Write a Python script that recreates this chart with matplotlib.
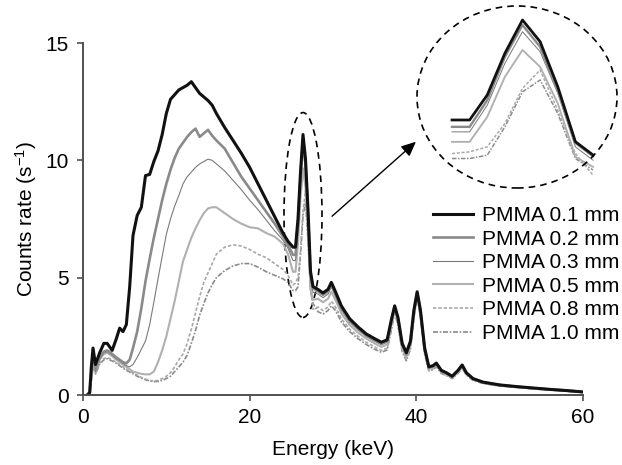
import matplotlib
matplotlib.use("Agg")
import matplotlib.pyplot as plt
from matplotlib.patches import Ellipse, FancyArrowPatch
import numpy as np

plt.rcParams['font.family'] = ['Liberation Sans', 'DejaVu Sans']
plt.rcParams['mathtext.default'] = 'regular'

energy = [0.5, 0.8, 1.0, 1.2, 1.5, 2.0, 2.5, 2.9, 3.5, 4.0, 4.4, 4.8, 5.2,
          5.6, 6.0, 6.5, 7.0, 7.5, 8.0, 8.5, 9.0, 9.5, 10.0, 10.5, 11.0, 11.5,
          12.0, 12.5, 13.0, 13.5, 14.0, 14.5, 15.0, 15.5, 16.0,
          17.0, 18.0, 19.0, 20.0, 21.0, 22.0, 23.0, 24.0, 24.6,
          25.2, 25.5, 25.8, 26.1, 26.4, 26.7, 27.0, 27.3, 27.6,
          28.2, 28.8, 29.4, 29.8, 30.3, 31.0, 32.0, 33.0, 34.0, 35.0, 35.8,
          36.5, 37.0, 37.4, 37.8, 38.3, 38.8, 39.3, 39.7, 40.1, 40.5, 41.0,
          41.5, 42.0, 42.4, 43.0, 43.6, 44.3, 45.0, 45.5, 46.0, 46.8, 48.0,
          50.0, 52.0, 54.0, 56.0, 58.0, 60.0]

pmma_01 = [0.0, 0.1, 1.2, 2.0, 1.3, 1.8, 2.2, 2.2, 1.9, 2.4, 2.85, 2.7, 3.0,
           4.6, 6.8, 7.65, 8.0, 9.35, 9.4, 9.95, 10.4, 11.1, 12.0, 12.6, 12.8, 13.0,
           13.1, 13.2, 13.35, 13.1, 12.85, 12.7, 12.55, 12.35, 12.0,
           11.4, 10.85, 10.3, 9.7, 9.0, 8.3, 7.6, 6.9, 6.55,
           6.3, 6.3, 7.5, 9.5, 11.1, 10.06, 7.9, 5.26, 4.62,
           4.5, 4.35, 4.5, 4.8, 4.4, 3.8, 3.25, 2.9, 2.6, 2.4, 2.25,
           2.35, 3.2, 3.8, 3.3, 2.2, 1.8, 2.3, 3.6, 4.4, 3.6, 2.0,
           1.2, 1.25, 1.36, 1.05, 0.95, 0.8, 1.05, 1.28, 0.95, 0.7, 0.55,
           0.43, 0.36, 0.3, 0.24, 0.19, 0.13]

pmma_02 = [0.0, 0.05, 0.9, 1.7, 1.1, 1.6, 1.85, 1.9, 1.75, 1.6, 1.5, 1.4, 1.35,
           1.5, 2.0, 2.7, 3.7, 4.85, 5.8, 6.7, 7.5, 8.3, 9.0, 9.6, 10.1, 10.5,
           10.75, 11.0, 11.2, 11.35, 11.0, 11.15, 11.3, 11.05, 10.85,
           10.5, 9.9, 9.3, 8.8, 8.3, 7.8, 7.3, 6.75, 6.4,
           5.97, 5.97, 7.25, 9.33, 10.86, 9.81, 7.74, 5.2, 4.56,
           4.42, 4.27, 4.42, 4.72, 4.32, 3.72, 3.18, 2.84, 2.55, 2.35, 2.2,
           2.3, 3.15, 3.77, 3.25, 2.15, 1.75, 2.25, 3.55, 4.37, 3.55, 1.96,
           1.18, 1.22, 1.33, 1.03, 0.93, 0.78, 1.03, 1.26, 0.93, 0.69, 0.54,
           0.42, 0.35, 0.29, 0.24, 0.19, 0.13]

pmma_03 = [0.0, 0.05, 0.8, 1.6, 1.0, 1.55, 1.8, 1.85, 1.7, 1.55, 1.45, 1.35, 1.25,
           1.2, 1.3, 1.6, 1.95, 2.3, 3.0, 3.95, 4.95, 5.9, 6.85, 7.5, 8.05, 8.5,
           9.0, 9.3, 9.5, 9.7, 9.85, 9.95, 10.05, 10.0, 9.85,
           9.55, 9.15, 8.75, 8.3, 7.9, 7.45, 7.0, 6.6, 6.25,
           5.73, 5.73, 7.01, 9.02, 10.54, 9.58, 7.58, 5.01, 4.37,
           4.3, 4.15, 4.3, 4.6, 4.2, 3.62, 3.1, 2.77, 2.49, 2.29, 2.14,
           2.25, 3.1, 3.73, 3.2, 2.1, 1.7, 2.2, 3.5, 4.33, 3.5, 1.92,
           1.15, 1.2, 1.31, 1.01, 0.91, 0.77, 1.01, 1.24, 0.92, 0.68, 0.53,
           0.41, 0.35, 0.29, 0.23, 0.18, 0.12]

pmma_05 = [0.0, 0.05, 0.7, 1.5, 1.0, 1.5, 1.75, 1.8, 1.65, 1.5, 1.4, 1.3, 1.2,
           1.1, 1.0, 0.95, 0.9, 0.88, 0.88, 1.0, 1.4, 1.9, 2.5, 3.25, 4.0, 4.85,
           5.7, 6.2, 6.7, 7.1, 7.45, 7.75, 7.95, 8.0, 8.0,
           7.75, 7.5, 7.3, 7.15, 7.1, 6.9, 6.75, 6.45, 6.0,
           5.25, 5.25, 6.45, 8.37, 9.66, 8.85, 7.1, 4.53, 4.05,
           4.1, 3.95, 4.1, 4.4, 4.05, 3.48, 2.98, 2.66, 2.4, 2.2, 2.05,
           2.15, 3.0, 3.68, 3.12, 2.0, 1.62, 2.12, 3.42, 4.28, 3.42, 1.86,
           1.11, 1.16, 1.28, 0.98, 0.88, 0.75, 0.98, 1.21, 0.9, 0.66, 0.52,
           0.4, 0.34, 0.28, 0.23, 0.18, 0.12]

pmma_08 = [0.0, 0.05, 0.6, 1.3, 0.9, 1.35, 1.55, 1.6, 1.5, 1.38, 1.3, 1.2, 1.1,
           1.0, 0.95, 0.85, 0.75, 0.68, 0.62, 0.6, 0.62, 0.7, 0.8, 0.95, 1.2, 1.5,
           1.75, 2.2, 2.8, 3.5, 4.2, 4.8, 5.2, 5.6, 6.0,
           6.3, 6.4, 6.35, 6.2, 6.0, 5.85, 5.6, 5.35, 5.1,
           4.69, 4.77, 5.01, 6.13, 7.82, 8.70, 6.77, 4.69, 3.65,
           3.75, 3.6, 3.75, 4.0, 3.75, 3.25, 2.8, 2.5, 2.25, 2.05, 1.9,
           2.0, 2.85, 3.6, 3.02, 1.9, 1.52, 2.02, 3.32, 4.22, 3.32, 1.78,
           1.06, 1.11, 1.23, 0.94, 0.85, 0.72, 0.94, 1.17, 0.87, 0.64, 0.5,
           0.39, 0.33, 0.27, 0.22, 0.17, 0.11]

pmma_10 = [0.0, 0.05, 0.6, 1.2, 0.9, 1.3, 1.5, 1.55, 1.45, 1.35, 1.25, 1.15, 1.05,
           0.98, 0.9, 0.8, 0.72, 0.65, 0.6, 0.57, 0.58, 0.62, 0.7, 0.8, 1.0, 1.2,
           1.4, 1.7, 2.2, 2.75, 3.4, 3.9, 4.35, 4.7, 5.0,
           5.3, 5.5, 5.6, 5.6, 5.45, 5.25, 5.1, 4.95, 4.8,
           4.45, 4.45, 4.61, 5.97, 7.65, 8.22, 6.61, 4.45, 3.9,
           3.55, 3.45, 3.6, 3.8, 3.6, 3.12, 2.7, 2.4, 2.15, 1.95, 1.82,
           1.92, 2.75, 3.55, 2.95, 1.85, 1.46, 1.96, 3.25, 4.18, 3.26, 1.74,
           1.03, 1.08, 1.2, 0.92, 0.83, 0.7, 0.92, 1.15, 0.85, 0.62, 0.49,
           0.38, 0.32, 0.26, 0.21, 0.16, 0.11]

labels = ['PMMA 0.1 mm', 'PMMA 0.2 mm', 'PMMA 0.3 mm',
          'PMMA 0.5 mm', 'PMMA 0.8 mm', 'PMMA 1.0 mm']
series = [pmma_01, pmma_02, pmma_03, pmma_05, pmma_08, pmma_10]
inset_range = (25.2, 27.6)

styles = [
    dict(color='#111111', lw=2.2, ls='-'),
    dict(color='#8a8a8a', lw=1.9, ls='-'),
    dict(color='#7a7a7a', lw=0.8, ls='-'),
    dict(color='#b0b0b0', lw=1.5, ls='-'),
    dict(color='#a8a8a8', lw=1.2, ls=(0, (2.0, 1.2))),
    dict(color='#8a8a8a', lw=1.2, ls=(0, (3.0, 1.0, 1.0, 1.0))),
]

FS = 15
W, H = 622, 465
fig = plt.figure(figsize=(W / 100, H / 100), dpi=100)
ax = fig.add_axes([83 / W, (H - 395) / H, 500 / W, 352 / H])

e = np.array(energy)
order = [5, 4, 3, 2, 1, 0]
lines = {}
for i in order:
    ln, = ax.plot(e, series[i], label=labels[i], **styles[i])
    lines[i] = ln

ax.set_xlim(0, 60)
ax.set_ylim(0, 15)
ax.set_xticks([0, 20, 40, 60])
ax.set_yticks([0, 5, 10, 15])
for s in ['top', 'right']:
    ax.spines[s].set_visible(False)
for s in ['left', 'bottom']:
    ax.spines[s].set_color('#505050')
    ax.spines[s].set_linewidth(1.4)
ax.tick_params(axis='both', direction='out', length=4.5, width=1.2,
               color='#505050', labelsize=FS)
ax.tick_params(axis='x', pad=5)
ax.tick_params(axis='y', pad=6)
ax.set_xlabel('Energy (keV)', fontsize=FS, labelpad=9)
ax.set_ylabel('Counts rate (s$^{-1}$)', fontsize=FS, labelpad=4)

ax.add_patch(Ellipse((26.4, 7.67), 4.56, 8.73, fill=False, ls=(0, (4, 3)),
                     lw=1.2, color='black', clip_on=False))

arr = FancyArrowPatch((29.64, 7.54), (40.2, 10.87),
                      arrowstyle='-|>,head_length=0.55,head_width=0.25',
                      mutation_scale=16, color='black', lw=1.0, clip_on=False)
ax.add_patch(arr)

x0, x1 = 25.0, 27.8
y0, y1 = 3.4, 11.4
px_l = 452 - (25.2 - x0) * 58.75
px_r = px_l + (x1 - x0) * 58.75
py_t = 20 - (y1 - 11.1) * 20.83
py_b = 20 + (11.1 - y0) * 20.83
ins = fig.add_axes([px_l / W, (H - py_b) / H, (px_r - px_l) / W, (py_b - py_t) / H])
mask = (e >= inset_range[0] - 1e-9) & (e <= inset_range[1] + 1e-9)
for i in order:
    st = dict(styles[i])
    st['lw'] = st['lw'] * 0.9
    ins.plot(e[mask], np.array(series[i])[mask], **st)
ins.set_xlim(x0, x1)
ins.set_ylim(y0, y1)
ins.axis('off')

fig.patches.append(Ellipse((517 / W, (H - 97) / H), 200 / W, 182 / H,
                           transform=fig.transFigure, fill=False,
                           ls=(0, (4, 3)), lw=1.2, color='black'))

handles = [lines[i] for i in range(6)]
leg = ax.legend(handles, labels, loc='upper left',
                bbox_to_anchor=(433 / W, (H - 206) / H),
                bbox_transform=fig.transFigure, frameon=False,
                fontsize=FS, handlelength=1.9, handletextpad=0.45,
                labelspacing=0.22, borderpad=0, borderaxespad=0)

fig.savefig('out.png', dpi=100)
